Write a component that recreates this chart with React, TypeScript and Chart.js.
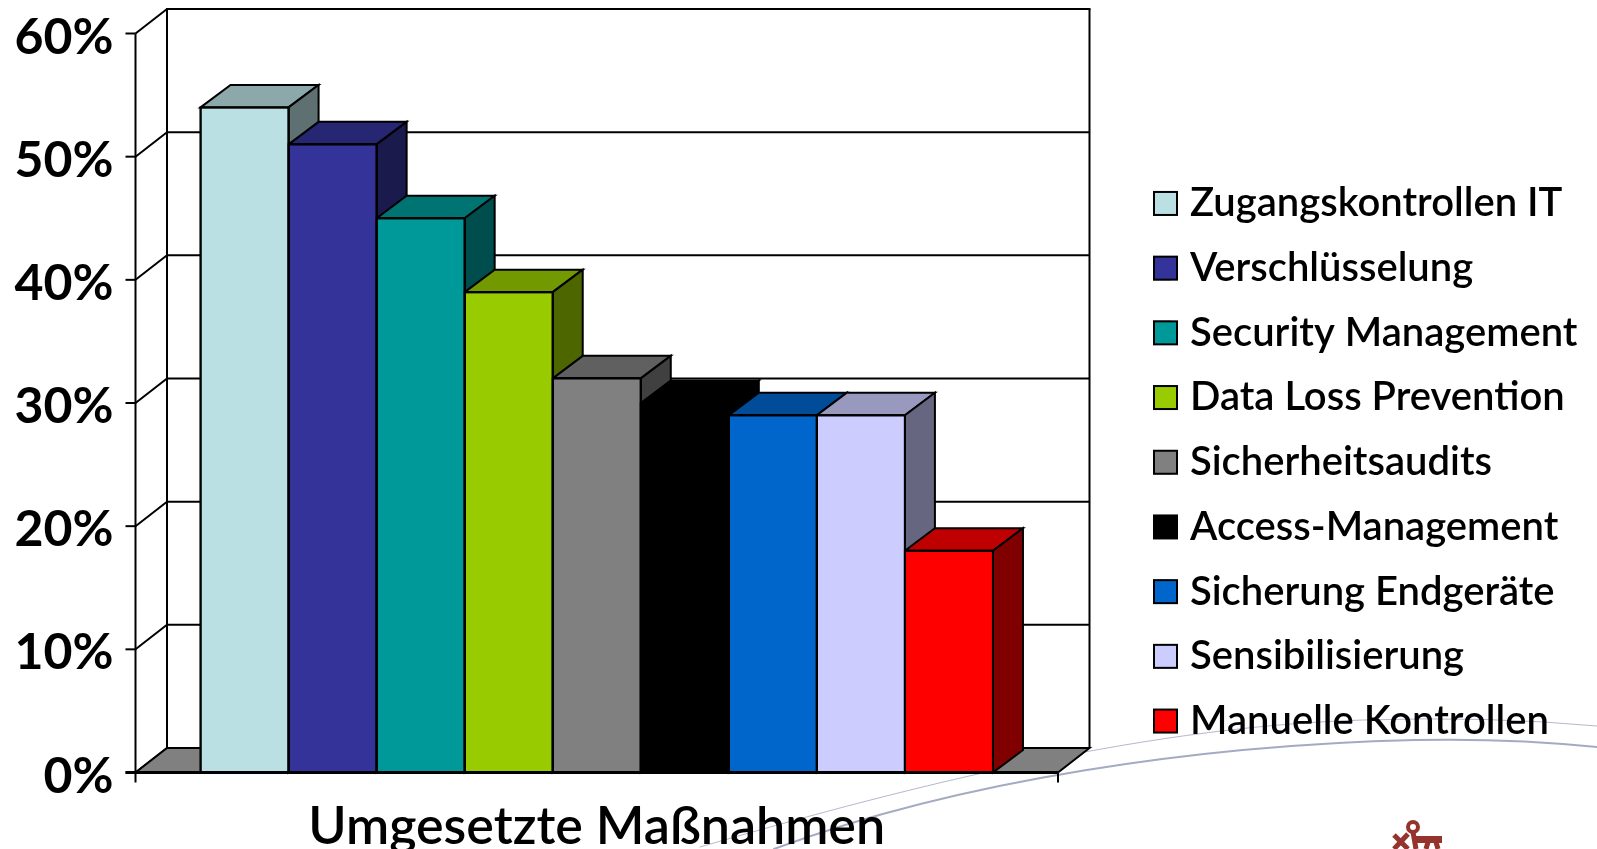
import React, { useEffect, useRef } from "react";
import { Chart, registerables } from "chart.js";

Chart.register(...registerables);

const categoryLabels = ["Umgesetzte Maßnahmen"];
const seriesNames = [
  "Zugangskontrollen IT",
  "Verschlüsselung",
  "Security Management",
  "Data Loss Prevention",
  "Sicherheitsaudits",
  "Access-Management",
  "Sicherung Endgeräte",
  "Sensibilisierung",
  "Manuelle Kontrollen",
];
const seriesValues = [54, 51, 45, 39, 32, 30, 29, 29, 18];
const frontColors = ["#BBE0E3", "#333399", "#009999", "#99CC00", "#808080", "#000000", "#0066CC", "#CCCCFF", "#FF0000"];
const topColors = ["#8CA8AA", "#262673", "#007373", "#739900", "#606060", "#000000", "#004C99", "#9999BF", "#BF0000"];
const sideColors = ["#5E7072", "#1A1A4D", "#004D4D", "#4D6600", "#404040", "#000000", "#003366", "#666680", "#800000"];

const DEPTH_X = 31.5;
const DEPTH_Y = 24.5;
const FONT = "Lato, sans-serif";

function poly(ctx: CanvasRenderingContext2D, pts: number[][], fill: string | null, stroke = "#000", lw = 2) {
  ctx.beginPath();
  pts.forEach((p, i) => (i ? ctx.lineTo(p[0], p[1]) : ctx.moveTo(p[0], p[1])));
  ctx.closePath();
  if (fill) {
    ctx.fillStyle = fill;
    ctx.fill();
  }
  ctx.lineWidth = lw;
  ctx.strokeStyle = stroke;
  ctx.lineJoin = "miter";
  ctx.stroke();
}

function line(ctx: CanvasRenderingContext2D, x1: number, y1: number, x2: number, y2: number, lw = 2, color = "#000") {
  ctx.beginPath();
  ctx.moveTo(x1, y1);
  ctx.lineTo(x2, y2);
  ctx.lineWidth = lw;
  ctx.strokeStyle = color;
  ctx.stroke();
}

const swooshPlugin = {
  id: "swoosh",
  beforeDraw(chart: any) {
    const ctx = chart.ctx as CanvasRenderingContext2D;
    ctx.save();
    ctx.fillStyle = "#fff";
    ctx.fillRect(0, 0, chart.width, chart.height);
    ctx.lineCap = "round";
    ctx.strokeStyle = "#A4AAC2";
    ctx.lineWidth = 2;
    ctx.beginPath();
    ctx.moveTo(774, 849);
    ctx.bezierCurveTo(960, 780, 1200, 745, 1415, 740);
    ctx.quadraticCurveTo(1510, 738, 1597, 747);
    ctx.stroke();
    ctx.strokeStyle = "#B4B8CC";
    ctx.lineWidth = 1;
    ctx.beginPath();
    ctx.moveTo(700, 847);
    ctx.bezierCurveTo(880, 795, 1130, 727, 1363, 720);
    ctx.quadraticCurveTo(1490, 716, 1597, 726);
    ctx.stroke();
    // small emblem of the slide background
    ctx.strokeStyle = "#94342C";
    ctx.lineCap = "butt";
    ctx.lineWidth = 4;
    ctx.beginPath();
    ctx.arc(1413, 827, 5, 0, Math.PI * 2);
    ctx.stroke();
    ctx.lineWidth = 5;
    ctx.beginPath();
    ctx.moveTo(1413, 832);
    ctx.lineTo(1416, 849);
    ctx.moveTo(1394, 849);
    ctx.lineTo(1408, 834);
    ctx.moveTo(1394, 835);
    ctx.lineTo(1408, 849);
    ctx.moveTo(1428, 842);
    ctx.lineTo(1426, 849);
    ctx.moveTo(1436, 842);
    ctx.lineTo(1438, 849);
    ctx.stroke();
    ctx.lineWidth = 7;
    ctx.beginPath();
    ctx.moveTo(1416, 839.5);
    ctx.lineTo(1442, 839.5);
    ctx.stroke();
    ctx.restore();
  },
};

const cubePlugin = {
  id: "cube",
  beforeLayout(chart: any) {
    const legend = chart.legend;
    if (!legend.__wrapped) {
      const fit = legend.fit;
      legend.fit = function () {
        fit.call(this);
        this.width = 539;
      };
      legend.__wrapped = true;
    }
  },
  afterLayout(chart: any) {
    const legend = chart.legend;
    const pad = legend.options.labels.padding;
    legend.left = 1154 - pad;
    const shift = 21;
    legend.top += shift;
    legend.bottom += shift;
  },
  beforeDatasetsDraw(chart: any) {
    const ctx = chart.ctx as CanvasRenderingContext2D;
    const { left, right, top, bottom } = chart.chartArea;
    const y = chart.scales.y;
    const x0 = left + DEPTH_X;
    const x1 = right + DEPTH_X;
    ctx.save();
    // back wall
    ctx.fillStyle = "#fff";
    ctx.fillRect(x0, top - DEPTH_Y, x1 - x0, bottom - top);
    // gridlines on back wall and diagonals
    y.ticks.forEach((t: any) => {
      const py = y.getPixelForValue(t.value);
      if (t.value > 0) line(ctx, x0, py - DEPTH_Y, x1, py - DEPTH_Y, 2);
      line(ctx, left, py, x0, py - DEPTH_Y, 2);
      line(ctx, left - 10, py, left, py, 2);
    });
    // floor
    poly(ctx, [[left, bottom], [x0, bottom - DEPTH_Y], [x1, bottom - DEPTH_Y], [right, bottom]], "#808080");
    // wall outline
    line(ctx, x0, top - DEPTH_Y, x0, bottom - DEPTH_Y, 2);
    line(ctx, x0 - 1, top - DEPTH_Y, x1 + 1, top - DEPTH_Y, 2);
    line(ctx, x1, top - DEPTH_Y, x1, bottom - DEPTH_Y, 2);
    // front axis
    line(ctx, left, top, left, bottom + 10, 2);
    line(ctx, right, bottom, right, bottom + 10, 2);
    // tops and sides of the bars
    chart.data.datasets.forEach((_d: any, i: number) => {
      const bar = chart.getDatasetMeta(i).data[0];
      const hw = bar.width / 2;
      const xl = bar.x - hw;
      const xr = bar.x + hw;
      const ty = bar.y;
      const by = bar.base;
      const dx = 30;
      const dy = 22.5;
      poly(ctx, [[xl, ty], [xl + dx, ty - dy], [xr + dx, ty - dy], [xr, ty]], topColors[i]);
      poly(ctx, [[xr, ty], [xr + dx, ty - dy], [xr + dx, by - dy], [xr, by]], sideColors[i]);
    });
    ctx.restore();
  },
  afterDatasetsDraw(chart: any) {
    const ctx = chart.ctx as CanvasRenderingContext2D;
    const { left, right, bottom } = chart.chartArea;
    ctx.save();
    // outline each front face centred on the bar's edge
    chart.data.datasets.forEach((_d: any, i: number) => {
      const bar = chart.getDatasetMeta(i).data[0];
      ctx.strokeStyle = "#000";
      ctx.lineWidth = 2;
      ctx.strokeRect(bar.x - bar.width / 2, bar.y, bar.width, bar.base - bar.y);
    });
    line(ctx, left - 10, bottom, right, bottom, 3);
    ctx.restore();
  },
  afterDraw(chart: any) {
    const ctx = chart.ctx as CanvasRenderingContext2D;
    const boxes = chart.legend.legendHitBoxes;
    ctx.save();
    boxes.forEach((b: any, i: number) => {
      const cy = b.top + b.height / 2;
      ctx.fillStyle = frontColors[i];
      ctx.fillRect(b.left, cy - 11.5, 23, 23);
      ctx.strokeStyle = "#000";
      ctx.lineWidth = 2;
      ctx.strokeRect(b.left, cy - 11.5, 23, 23);
    });
    ctx.restore();
  },
};

export default function App() {
  const ref = useRef<HTMLCanvasElement>(null);
  useEffect(() => {
    const chart = new Chart(ref.current!, {
      type: "bar",
      data: {
        labels: categoryLabels,
        datasets: seriesNames.map((name, i) => ({
          label: name,
          data: [seriesValues[i]],
          backgroundColor: frontColors[i],
          borderColor: "#000",
          borderWidth: 2,
          borderSkipped: false,
          inflateAmount: 1,
          barPercentage: 1,
          categoryPercentage: 0.859,
        })),
      } as any,
      options: {
        animation: false,
        responsive: false,
        maintainAspectRatio: false,
        events: [],
        layout: { padding: { top: 33.5, left: 0, right: 0, bottom: 0 } },
        plugins: {
          tooltip: { enabled: false },
          title: { display: false },
          legend: {
            display: true,
            position: "right",
            align: "center",
            labels: {
              boxWidth: 16,
              boxHeight: 22,
              padding: 24.7,
              color: "#000",
              font: { family: FONT, size: 40, weight: "600" },
            },
          },
        },
        scales: {
          x: {
            grid: { display: false, drawTicks: false },
            border: { display: false },
            ticks: {
              color: "#000",
              padding: 24,
              maxRotation: 0,
              font: { family: FONT, size: 52, weight: "600" },
            },
            afterFit(s: any) {
              s.height = 76.5;
              s.paddingLeft = 0;
              s.paddingRight = 0;
            },
          },
          y: {
            min: 0,
            max: 60,
            grid: { display: false, drawTicks: false },
            border: { display: false },
            ticks: {
              stepSize: 10,
              color: "#000",
              padding: 22,
              labelOffset: 4,
              font: { family: FONT, size: 50, weight: "bold" },
              callback: (v: any) => v + "%",
            },
            afterFit(s: any) {
              s.width = 135.5;
              s.paddingTop = 0;
              s.paddingBottom = 0;
            },
          },
        },
      },
      plugins: [swooshPlugin, cubePlugin],
    } as any);
    return () => chart.destroy();
  }, []);
  return (
    <canvas
      ref={ref}
      width={1597}
      height={849}
      style={{ position: "fixed", left: 0, top: 0, width: 1597, height: 849, display: "block" }}
    />
  );
}
